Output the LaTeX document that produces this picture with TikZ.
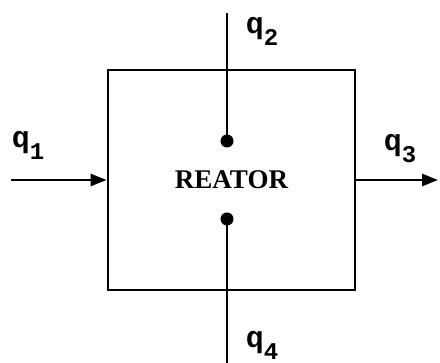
\documentclass[tikz,border=0pt]{standalone}
\usepackage{fontspec}
\setmonofont{Liberation Mono}
\newfontfamily\reatorfont{Liberation Serif}
\usetikzlibrary{arrows.meta}
\newcommand{\qlab}[1]{\ttfamily\bfseries q\raisebox{-12pt}{\fontsize{24}{24}\selectfont #1}}
\begin{document}
\begin{tikzpicture}[x=1pt,y=-1pt,
  flow/.style={line width=2.6pt, -{Triangle[length=16pt,width=12pt]}},
  pipe/.style={line width=2.8pt},
  dotnode/.style={circle, fill=black, inner sep=0pt, minimum size=13pt},
  qtext/.style={font=\fontsize{30}{30}\selectfont, inner sep=0pt}]
\useasboundingbox (0,0) rectangle (440,363);
\node[draw, line width=2.8pt, minimum width=247pt, minimum height=220pt,
      font=\reatorfont\bfseries\fontsize{27}{27}\selectfont] (reactor) at (231.5,180) {REATOR};
\coordinate (in1) at (11,180);
\coordinate (out3) at (438,180);
\coordinate (top2) at (227,13);
\coordinate (bot4) at (227,363);
\node[dotnode] (d2) at (227,141) {};
\node[dotnode] (d4) at (227,219) {};
\draw[flow] (in1) -- (reactor.west |- in1);
\draw[flow] (reactor.east |- out3) -- (out3);
\draw[pipe] (top2) -- (d2.center);
\draw[pipe] (d4.center) -- (bot4);
\node[qtext] (q1) at (28,145) {\qlab{1}};
\node[qtext] (q2) at (262,31) {\qlab{2}};
\node[qtext] (q3) at (400,149) {\qlab{3}};
\node[qtext] (q4) at (262,345) {\qlab{4}};
\end{tikzpicture}
\end{document}
